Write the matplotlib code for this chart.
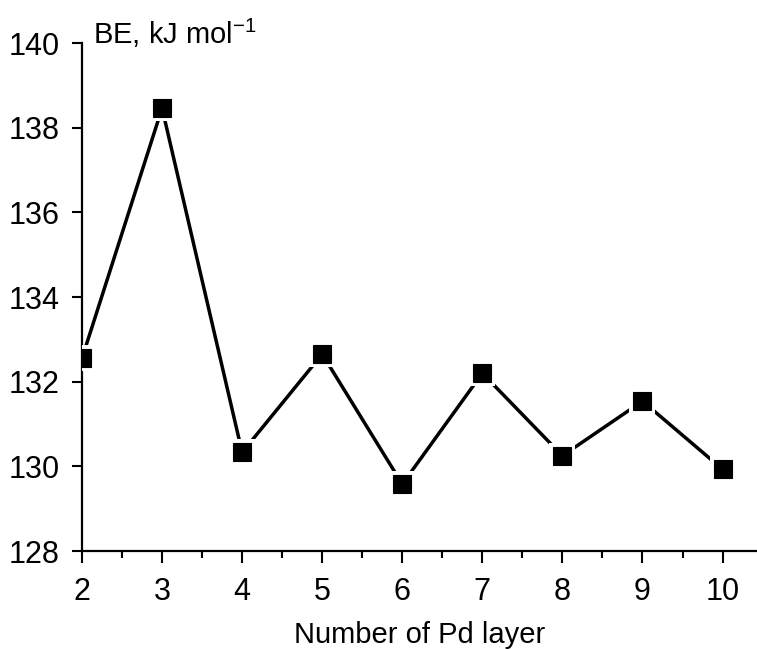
import matplotlib
matplotlib.use("Agg")
import matplotlib.pyplot as plt
from matplotlib.ticker import MultipleLocator

plt.rcParams['font.family'] = ['Liberation Sans', 'DejaVu Sans']
plt.rcParams['mathtext.fontset'] = 'custom'
plt.rcParams['mathtext.rm'] = 'Liberation Sans'
plt.rcParams['mathtext.it'] = 'Liberation Sans'
plt.rcParams['mathtext.default'] = 'rm'

layers = [2, 3, 4, 5, 6, 7, 8, 9, 10]
be_values = [132.55, 138.46, 130.33, 132.65, 129.58, 132.2, 130.25, 131.54, 129.93]
x_ticks = [2, 3, 4, 5, 6, 7, 8, 9, 10]
y_ticks = [128, 130, 132, 134, 136, 138, 140]

fig = plt.figure(figsize=(7.57, 6.5), dpi=100)
ax = fig.add_axes([0.1083, 0.1523, 1 - 0.1083, 0.9338 - 0.1523])

ax.plot(layers, be_values, color='black', lw=2.5, zorder=2, solid_capstyle='butt')
ax.plot(layers, be_values, ls='none', marker='s', ms=18.5, mfc='white', mec='white', mew=0, zorder=3)
ax.plot(layers, be_values, ls='none', marker='s', ms=13, mfc='black', mec='black', mew=0.8, zorder=4)

ax.set_xlim(2, 10.43)
ax.set_ylim(128, 140)
ax.set_xticks(x_ticks)
ax.set_yticks(y_ticks)
ax.xaxis.set_minor_locator(MultipleLocator(0.5))

for s in ['top', 'right']:
    ax.spines[s].set_visible(False)
for s in ['left', 'bottom']:
    ax.spines[s].set_linewidth(1.6)

ax.tick_params(axis='x', which='major', direction='out', length=8.5, width=1.5, labelsize=22, pad=10)
ax.tick_params(axis='x', which='minor', direction='out', length=5, width=1.5)
ax.tick_params(axis='y', which='major', direction='out', length=7, width=1.5, labelsize=22, pad=9)

ax.set_xlabel('Number of Pd layer', fontsize=21, labelpad=10)
fig.text(93 / 757, 1 - 44 / 650, 'BE, kJ mol$^{-1}$', fontsize=21, ha='left', va='baseline')

fig.savefig('out.png', dpi=100)
